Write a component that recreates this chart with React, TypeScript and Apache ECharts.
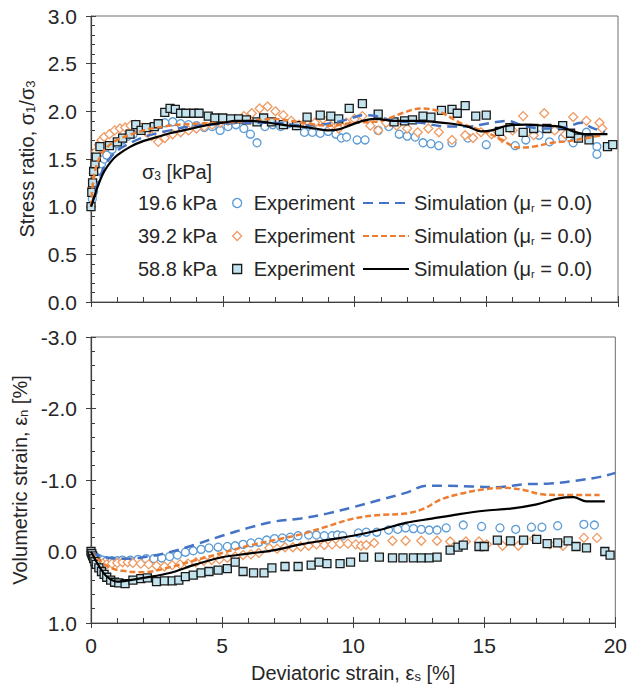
import React, { useEffect, useRef } from 'react';
import * as echarts from 'echarts';

const FONT = '"Liberation Sans", Arial, sans-serif';
const TXT = '#262626';
const AX = '#404040';

// ---- x axis ticks (deviatoric strain, %) ----
const strainMin = 0;
const strainMax = 20;
const strainStep = 5;

// ---- legend / series labels ----
const pressures = ['19.6 kPa', '39.2 kPa', '58.8 kPa'];
const expNames = ['exp196', 'exp392', 'exp588'];
const simNames = ['sim196', 'sim392', 'sim588'];

// ---- Stress ratio: experiments [strain, ratio] ----
const stressExp196 = [
  [0, 1.0], [0.05, 1.08], [0.1, 1.16], [0.15, 1.24], [0.2, 1.3], [0.3, 1.38], [0.4, 1.45], [0.5, 1.5],
  [0.6, 1.54], [0.8, 1.6], [1.0, 1.66], [1.2, 1.7], [1.4, 1.74], [1.6, 1.76], [1.9, 1.8], [2.2, 1.82],
  [2.5, 1.85], [2.8, 1.88], [3.1, 1.89], [3.4, 1.87], [3.7, 1.86], [4.0, 1.85], [4.3, 1.83], [4.6, 1.84],
  [4.9, 1.8], [5.2, 1.84], [5.5, 1.86], [5.8, 1.82], [6.05, 1.76], [6.3, 1.67], [6.6, 1.84], [6.9, 1.86],
  [7.2, 1.84], [7.5, 1.87], [7.8, 1.85], [8.1, 1.78], [8.4, 1.78], [8.7, 1.77], [9.0, 1.79], [9.3, 1.76],
  [9.5, 1.72], [9.7, 1.73], [10.1, 1.7], [10.4, 1.7], [10.9, 1.8], [11.3, 1.84], [11.7, 1.76], [12.0, 1.74],
  [12.3, 1.73], [12.6, 1.67], [12.9, 1.66], [13.2, 1.64], [13.7, 1.67], [14.3, 1.72], [15.0, 1.65],
  [15.5, 1.78], [16.1, 1.64], [16.5, 1.7], [17.0, 1.75], [17.4, 1.68], [17.9, 1.72], [18.3, 1.67],
  [18.8, 1.78], [19.2, 1.63], [19.2, 1.55]
];
const stressExp392 = [
  [0, 1.0], [0.05, 1.2], [0.1, 1.35], [0.15, 1.48], [0.2, 1.58], [0.3, 1.65], [0.4, 1.7], [0.5, 1.73],
  [0.7, 1.76], [0.9, 1.8], [1.1, 1.82], [1.3, 1.83], [1.5, 1.85], [1.7, 1.86], [1.9, 1.83], [2.1, 1.78],
  [2.3, 1.74], [2.55, 1.68], [2.8, 1.72], [3.1, 1.76], [3.4, 1.78], [3.7, 1.8], [4.0, 1.82], [4.3, 1.84],
  [4.6, 1.86], [4.9, 1.88], [5.2, 1.9], [5.5, 1.92], [5.8, 1.95], [6.1, 1.98], [6.4, 2.03], [6.7, 2.05],
  [7.0, 2.0], [7.3, 1.96], [7.6, 1.9], [7.9, 1.86], [8.2, 1.9], [8.5, 1.88], [8.8, 1.92], [9.1, 1.85],
  [9.4, 1.82], [9.7, 1.88], [10.0, 1.92], [10.3, 1.95], [10.6, 1.85], [10.9, 1.8], [11.2, 1.88],
  [11.6, 1.85], [12.0, 1.82], [12.4, 1.78], [12.8, 1.82], [13.2, 1.78], [13.7, 1.7], [14.2, 1.75],
  [14.5, 1.72], [14.8, 1.78], [15.2, 1.76], [15.6, 1.72], [16.0, 1.8], [16.4, 1.95], [16.8, 1.75],
  [17.2, 1.98], [17.6, 1.8], [18.0, 1.76], [18.3, 1.94], [18.8, 1.9], [19.3, 1.88], [19.4, 1.82]
];
const stressExp588 = [
  [0, 1.0], [0.03, 1.15], [0.06, 1.25], [0.1, 1.37], [0.15, 1.45], [0.2, 1.52], [0.34, 1.63], [0.7, 1.64],
  [1.0, 1.68], [1.2, 1.72], [1.48, 1.76], [1.7, 1.86], [1.9, 1.8], [2.1, 1.83], [2.4, 1.84], [2.55, 1.87],
  [2.8, 1.99], [3.0, 2.03], [3.2, 2.02], [3.4, 1.98], [3.6, 1.98], [3.9, 1.98], [4.1, 1.98], [4.45, 1.95],
  [4.7, 1.93], [5.0, 1.93], [5.3, 1.92], [5.6, 1.92], [5.9, 1.91], [6.3, 1.89], [6.55, 1.93], [6.85, 1.89],
  [7.3, 1.86], [7.8, 1.85], [8.2, 1.94], [8.7, 1.96], [9.1, 1.95], [9.4, 1.92], [9.8, 2.03], [10.3, 2.08],
  [10.9, 1.97], [11.5, 1.89], [11.9, 1.9], [12.2, 1.91], [12.6, 1.95], [12.9, 1.94], [13.3, 2.01],
  [13.7, 2.02], [13.9, 1.98], [14.2, 2.06], [14.6, 1.95], [15.0, 1.96], [15.5, 1.79], [15.9, 1.83],
  [16.4, 1.78], [16.8, 1.82], [17.3, 1.82], [17.9, 1.85], [18.2, 1.77], [18.5, 1.72], [18.9, 1.7],
  [19.6, 1.63], [19.8, 1.65]
];

// ---- Stress ratio: simulations [strain, ratio] ----
const stressSim196 = [
  [0, 1.0], [0.1, 1.1], [0.2, 1.2], [0.35, 1.32], [0.5, 1.42], [0.75, 1.52], [1.0, 1.59], [1.5, 1.67],
  [2.0, 1.73], [2.5, 1.77], [3.0, 1.8], [3.5, 1.83], [4.0, 1.85], [5.0, 1.87], [6.0, 1.88], [7.0, 1.88],
  [8.0, 1.85], [9.0, 1.87], [9.8, 1.92], [10.3, 1.96], [10.8, 1.95], [11.5, 1.9], [12.5, 1.88],
  [13.5, 1.84], [14.3, 1.84], [15.0, 1.87], [15.8, 1.9], [16.5, 1.84], [17.3, 1.82], [18.0, 1.83],
  [18.6, 1.88], [19.0, 1.83], [19.5, 1.78]
];
const stressSim392 = [
  [0, 1.0], [0.1, 1.3], [0.3, 1.5], [0.6, 1.62], [1.0, 1.7], [2.0, 1.8], [3.0, 1.85], [4.0, 1.87],
  [5.0, 1.88], [6.0, 1.9], [7.0, 1.92], [8.0, 1.88], [9.0, 1.85], [10.0, 1.88], [11.0, 1.9], [11.8, 1.98],
  [12.5, 2.03], [13.2, 2.0], [14.0, 1.88], [15.0, 1.78], [15.6, 1.7], [16.2, 1.62], [16.8, 1.63],
  [17.5, 1.67], [18.2, 1.69], [19.0, 1.73], [19.4, 1.75]
];
const stressSim588 = [
  [0, 1.0], [0.1, 1.08], [0.2, 1.17], [0.35, 1.28], [0.5, 1.37], [0.75, 1.47], [1.0, 1.54], [1.5, 1.63],
  [2.0, 1.69], [2.5, 1.73], [3.0, 1.77], [3.5, 1.8], [4.0, 1.83], [4.5, 1.86], [5.0, 1.88], [5.5, 1.9],
  [6.0, 1.9], [6.5, 1.89], [7.0, 1.87], [7.5, 1.85], [8.0, 1.84], [8.5, 1.82], [9.0, 1.8], [9.4, 1.81],
  [9.8, 1.85], [10.3, 1.9], [10.8, 1.92], [11.5, 1.9], [12.3, 1.9], [13.0, 1.89], [13.7, 1.87],
  [14.3, 1.84], [14.8, 1.79], [15.2, 1.8], [15.8, 1.85], [16.5, 1.86], [17.2, 1.85], [17.8, 1.84],
  [18.3, 1.79], [18.8, 1.76], [19.6, 1.76]
];

// ---- Volumetric strain: experiments [strain, vol %] ----
const volExp196 = [
  [0, 0], [0.05, 0.03], [0.1, 0.05], [0.2, 0.08], [0.3, 0.1], [0.45, 0.12], [0.6, 0.13], [0.8, 0.13],
  [1.0, 0.13], [1.2, 0.12], [1.5, 0.12], [1.8, 0.11], [2.1, 0.1], [2.4, 0.1], [2.7, 0.09], [3.0, 0.07],
  [3.3, 0.05], [3.6, 0.01], [3.9, -0.01], [4.2, -0.03], [4.5, -0.05], [4.85, -0.06], [5.2, -0.07],
  [5.5, -0.08], [5.8, -0.1], [6.1, -0.12], [6.4, -0.13], [6.7, -0.16], [7.0, -0.18], [7.3, -0.19],
  [7.6, -0.2], [7.9, -0.22], [8.3, -0.23], [8.6, -0.23], [8.9, -0.22], [9.2, -0.22], [9.4, -0.23],
  [9.6, -0.22], [10.2, -0.26], [10.5, -0.27], [10.9, -0.27], [11.35, -0.3], [11.7, -0.31], [12.0, -0.33],
  [12.3, -0.32], [12.6, -0.31], [12.9, -0.3], [13.2, -0.3], [13.55, -0.33], [14.2, -0.37], [14.9, -0.35],
  [15.6, -0.33], [16.2, -0.31], [16.8, -0.34], [17.2, -0.34], [17.8, -0.36], [18.8, -0.38], [19.2, -0.37]
];
const volExp392 = [
  [0, 0], [0.05, 0.04], [0.1, 0.08], [0.2, 0.12], [0.3, 0.15], [0.45, 0.17], [0.6, 0.18], [0.8, 0.17],
  [1.0, 0.16], [1.2, 0.15], [1.4, 0.15], [1.6, 0.16], [1.9, 0.17], [2.2, 0.18], [2.5, 0.2], [2.8, 0.21],
  [3.1, 0.19], [3.4, 0.18], [3.7, 0.17], [4.0, 0.15], [4.3, 0.13], [4.6, 0.12], [4.9, 0.11], [5.2, 0.09],
  [5.5, 0.07], [5.8, 0.05], [6.1, 0.04], [6.4, 0.02], [6.8, -0.05], [7.1, -0.04], [7.4, -0.06],
  [7.7, -0.06], [8.0, -0.07], [8.3, -0.08], [8.6, -0.1], [8.9, -0.09], [9.2, -0.1], [9.5, -0.11],
  [9.8, -0.11], [10.1, -0.1], [10.3, -0.08], [10.5, -0.09], [10.8, -0.12], [11.5, -0.15], [12.0, -0.15],
  [12.6, -0.15], [13.2, -0.15], [13.7, -0.14], [14.3, -0.14], [14.8, -0.14], [15.1, -0.1], [15.7, -0.08],
  [16.3, -0.08], [16.9, -0.18], [17.5, -0.1], [18.0, -0.08], [18.8, -0.19], [19.3, -0.19]
];
const volExp588 = [
  [0, 0], [0.03, 0.03], [0.06, 0.06], [0.1, 0.1], [0.15, 0.14], [0.2, 0.18], [0.3, 0.23], [0.4, 0.28],
  [0.5, 0.32], [0.6, 0.36], [0.75, 0.4], [0.9, 0.43], [1.06, 0.44], [1.3, 0.45], [1.6, 0.4], [1.9, 0.38],
  [2.15, 0.37], [2.5, 0.42], [2.8, 0.41], [3.1, 0.41], [3.35, 0.4], [3.6, 0.35], [3.9, 0.33], [4.2, 0.3],
  [4.5, 0.28], [4.85, 0.26], [5.2, 0.24], [5.5, 0.15], [5.8, 0.28], [6.2, 0.3], [6.6, 0.3], [6.9, 0.23],
  [7.4, 0.21], [7.9, 0.21], [8.4, 0.19], [8.7, 0.15], [9.0, 0.17], [9.5, 0.17], [9.9, 0.15], [10.4, 0.08],
  [11.0, 0.08], [11.5, 0.09], [11.9, 0.09], [12.3, 0.09], [12.6, 0.09], [12.9, 0.09], [13.2, 0.08],
  [13.7, -0.02], [14.0, -0.06], [14.2, -0.09], [14.8, -0.07], [15.0, -0.07], [15.5, -0.16], [16.0, -0.15],
  [16.5, -0.16], [17.0, -0.17], [17.4, -0.11], [17.8, -0.12], [18.2, -0.15], [18.5, -0.07], [18.9, -0.05],
  [19.6, 0.0], [19.8, 0.05]
];

// ---- Volumetric strain: simulations [strain, vol %] ----
const volSim196 = [
  [0, 0], [0.3, 0.06], [0.7, 0.09], [1.2, 0.1], [2.0, 0.08], [3.0, 0.01], [4.0, -0.1], [5.0, -0.22],
  [6.0, -0.33], [7.0, -0.42], [8.0, -0.46], [9.0, -0.53], [10.0, -0.62], [11.0, -0.72], [12.0, -0.82],
  [12.8, -0.92], [13.5, -0.92], [14.5, -0.91], [15.5, -0.9], [16.5, -0.94], [17.5, -0.95], [18.5, -0.99],
  [19.5, -1.05], [20.0, -1.1]
];
const volSim392 = [
  [0, 0], [0.3, 0.12], [0.7, 0.22], [1.2, 0.27], [2.0, 0.29], [3.0, 0.22], [4.0, 0.12], [5.0, 0.02],
  [6.0, -0.08], [7.0, -0.16], [8.0, -0.24], [9.0, -0.35], [10.0, -0.46], [11.0, -0.51], [12.0, -0.53],
  [12.7, -0.6], [13.3, -0.72], [14.0, -0.8], [15.0, -0.87], [15.8, -0.89], [16.5, -0.86], [17.2, -0.8],
  [18.0, -0.79], [19.4, -0.79]
];
const volSim588 = [
  [0, 0], [0.3, 0.2], [0.6, 0.35], [1.0, 0.42], [1.5, 0.4], [2.0, 0.37], [3.0, 0.3], [4.0, 0.18],
  [5.0, 0.08], [6.0, 0.03], [7.0, -0.02], [8.0, -0.1], [9.0, -0.16], [10.0, -0.22], [11.0, -0.3],
  [12.0, -0.4], [13.0, -0.46], [14.0, -0.52], [15.0, -0.57], [16.0, -0.6], [17.0, -0.66], [17.8, -0.74],
  [18.4, -0.76], [18.9, -0.7], [19.6, -0.7]
];

const COLORS = {
  circle: '#5b9bd5',
  diamond: '#ee9b63',
  squareStroke: '#1a1a1a',
  squareFill: '#c3e4ee',
  simBlue: '#4472c4',
  simOrange: '#ed7d31',
  simBlack: '#000000'
};

const richBase = (size: number, sub: number) => ({
  a: { fontSize: size, fontFamily: FONT, color: TXT, fill: TXT, lineHeight: size },
  s: { fontSize: sub, fontFamily: FONT, color: TXT, fill: TXT, verticalAlign: 'bottom', lineHeight: 10 }
});

export default function App() {
  const ref = useRef<HTMLDivElement>(null);

  useEffect(() => {
    if (!ref.current) return;
    const chart = echarts.init(ref.current, null, { renderer: 'svg' });

    const grids = [
      { left: 91, top: 16, width: 527, height: 286 },
      { left: 91, top: 337, width: 527, height: 286 }
    ].map((g) => ({ ...g, show: true, borderColor: '#6e6e6e', borderWidth: 1, backgroundColor: 'transparent' }));

    const tickLine = { color: AX, width: 1 };

    const xMain = (gi: number, labelled: boolean) => ({
      type: 'value', gridIndex: gi, min: strainMin, max: strainMax, interval: strainStep, position: 'bottom',
      axisLine: { show: true, onZero: false, lineStyle: { color: AX, width: 1.2 } },
      axisTick: { show: true, inside: true, length: 6, lineStyle: tickLine },
      minorTick: { show: true, splitNumber: 5, length: 5, lineStyle: tickLine },
      splitLine: { show: false }, minorSplitLine: { show: false },
      axisLabel: { show: labelled, fontSize: 21, color: TXT, fontFamily: FONT, margin: 12 },
      name: labelled ? '{a|Deviatoric strain, ε}{s|s}{a| [%]}' : '',
      nameLocation: 'middle', nameGap: 40,
      nameTextStyle: { fontSize: 20, color: TXT, fontFamily: FONT, rich: richBase(20, 13) }
    });
    const xOuter = (gi: number) => ({
      type: 'value', gridIndex: gi, min: strainMin, max: strainMax, interval: strainStep, position: 'bottom',
      axisLine: { show: false, onZero: false }, axisTick: { show: true, inside: false, length: 5, lineStyle: tickLine },
      axisLabel: { show: false }, splitLine: { show: false }
    });

    const yCommon = (gi: number) => ({
      type: 'value', gridIndex: gi, position: 'left',
      axisLine: { show: true, onZero: false, lineStyle: { color: AX, width: 1.2 } },
      axisTick: { show: true, inside: true, length: 5, lineStyle: tickLine },
      minorTick: { show: true, splitNumber: 5, length: 4, lineStyle: tickLine },
      splitLine: { show: false }, minorSplitLine: { show: false },
      nameLocation: 'middle', nameRotate: 90, nameGap: 53,
      nameTextStyle: { fontSize: 20, color: TXT, fontFamily: FONT, rich: richBase(20, 13) }
    });
    const yOuter = (gi: number, min: number, max: number, interval: number, inverse: boolean) => ({
      type: 'value', gridIndex: gi, position: 'left', min, max, interval, inverse,
      axisLine: { show: false, onZero: false }, axisTick: { show: true, inside: false, length: 5, lineStyle: tickLine },
      axisLabel: { show: false }, splitLine: { show: false }
    });

    const yTop = {
      ...yCommon(0), min: 0, max: 3, interval: 0.5,
      axisLabel: { fontSize: 21, color: TXT, fontFamily: FONT, margin: 14, formatter: (v: number) => v.toFixed(1) },
      name: '{a|Stress ratio, σ}{s|1}{a|/σ}{s|3}'
    };
    const yBottom = {
      ...yCommon(1), min: -3, max: 1, interval: 1, inverse: true,
      axisLabel: {
        fontSize: 21, color: TXT, fontFamily: FONT, margin: 14,
        formatter: (v: number) => (Math.abs(v) < 1e-9 ? '0.0' : v.toFixed(1))
      },
      name: '{a|Volumetric strain, ε}{s|n}{a| [%]}'
    };

    const scatter = (name: string, data: number[][], gi: number, symbol: string, size: number, fill: string, stroke: string) => ({
      type: 'scatter', name, data, xAxisIndex: gi, yAxisIndex: gi, symbol, symbolSize: size, symbolKeepAspect: true,
      itemStyle: { color: fill, borderColor: stroke, borderWidth: 1.3, opacity: 1 },
      emphasis: { disabled: true }, z: 3
    });
    const simLine = (name: string, data: number[][], gi: number, color: string, width: number, type: any) => ({
      type: 'line', name, data, xAxisIndex: gi, yAxisIndex: gi, showSymbol: false, symbol: 'none', smooth: 0.35,
      color, itemStyle: { color }, lineStyle: { color, width, type },
      emphasis: { disabled: true }, z: 4
    });

    const series: any[] = [];
    const expSets = [
      [stressExp196, volExp196, 'circle', 8, '#ffffff', COLORS.circle],
      [stressExp392, volExp392, 'diamond', 9, '#ffffff', COLORS.diamond],
      [stressExp588, volExp588, 'rect', 8, COLORS.squareFill, COLORS.squareStroke]
    ] as any[];
    expSets.forEach((s, i) => {
      series.push(scatter(expNames[i], s[0], 0, s[2], s[3], s[4], s[5]));
      series.push(scatter(expNames[i], s[1], 1, s[2], s[3], s[4], s[5]));
    });
    const simSets = [
      [stressSim196, volSim196, COLORS.simBlue, 2.5, [10, 6]],
      [stressSim392, volSim392, COLORS.simOrange, 2.5, [6, 3]],
      [stressSim588, volSim588, COLORS.simBlack, 2.2, 'solid']
    ] as any[];
    simSets.forEach((s, i) => {
      series.push(simLine(simNames[i], s[0], 0, s[2], s[3], s[4]));
      series.push(simLine(simNames[i], s[1], 1, s[2], s[3], s[4]));
    });

    const legendText = { fontSize: 20, color: TXT, fontFamily: FONT, lineHeight: 20 };
    const rowY = [203, 236, 269];

    chart.setOption({
      animation: false,
      backgroundColor: '#ffffff',
      grid: grids,
      xAxis: [xMain(0, false), xMain(1, true), xOuter(0), xOuter(1)],
      yAxis: [yTop, yBottom, yOuter(0, 0, 3, 0.5, false), yOuter(1, -3, 1, 1, true)],
      legend: [
        {
          orient: 'vertical', left: 232, top: rowY[0] - 10, padding: 0, itemGap: 13,
          itemWidth: 9, itemHeight: 9, data: expNames, selectedMode: false, symbolKeepAspect: true,
          formatter: () => 'Experiment',
          textStyle: { ...legendText, padding: [0, 0, 0, 7] },
          itemStyle: { borderWidth: 1.3 }
        },
        {
          orient: 'vertical', left: 362, top: rowY[0] - 10, padding: 0, itemGap: 13,
          itemWidth: 46, itemHeight: 14, data: simNames, selectedMode: false,
          itemStyle: { color: 'rgba(0,0,0,0)', borderWidth: 0, opacity: 0 },
          formatter: () => '{a|Simulation} {a|(μ}{s|r}{a| = 0.0)}',
          textStyle: { ...legendText, rich: { a: { ...legendText }, s: { fontSize: 11, fontFamily: FONT, color: TXT, verticalAlign: 'bottom', lineHeight: 10 } } }
        }
      ],
      graphic: [
        {
          type: 'text', x: 142, y: 172, silent: true,
          style: {
            text: '{a|σ}{s|3}{a| [kPa]}', verticalAlign: 'middle', fill: TXT, fontSize: 20, fontFamily: FONT,
            rich: { a: { fontSize: 20, fontFamily: FONT, fill: TXT, lineHeight: 20 }, s: { fontSize: 12, fontFamily: FONT, fill: TXT, verticalAlign: 'bottom', lineHeight: 10 } }
          }
        },
        ...pressures.map((p, i) => ({
          type: 'text', x: 138, y: rowY[i], silent: true,
          style: { text: p, verticalAlign: 'middle', fill: TXT, fontSize: 20, fontFamily: FONT }
        }))
      ],
      series
    });

    return () => chart.dispose();
  }, []);

  return <div ref={ref} style={{ position: 'fixed', left: 0, top: 0, width: 630, height: 690 }} />;
}
